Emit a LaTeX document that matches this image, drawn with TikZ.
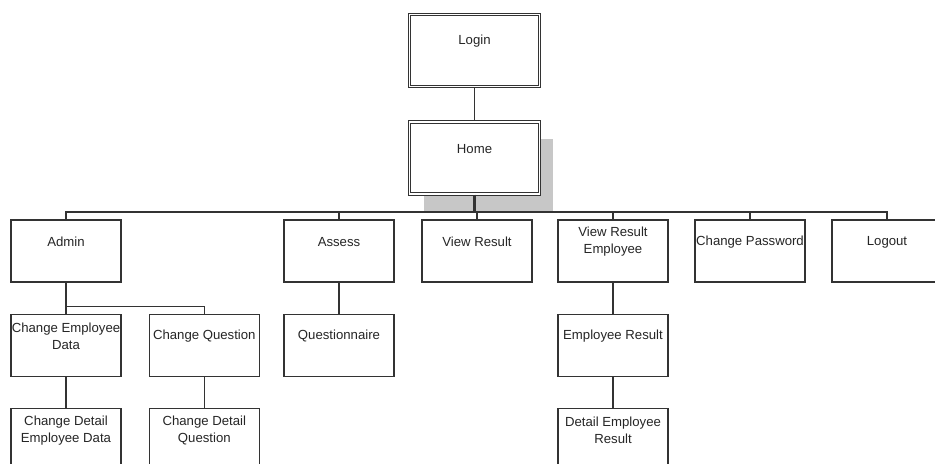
\documentclass[tikz,border=0pt]{standalone}
\usepackage{fontspec}
\setmainfont{Liberation Sans}
\usetikzlibrary{positioning, shadows}
\tikzset{
x=0.02cm, y=-0.02cm, % one unit is one pixel of the sketch, y runs down
node distance=0.62cm and 0.54cm, % vertical and horizontal gap between the boxes
every node/.style={font=\fontsize{7.5}{9.6}\selectfont, text=black!85},
every label/.style={align=center, yshift=0.18cm}, % puts the text in the upper part of a box
page/.style={draw=black!80, fill=white, line width=0.75pt, minimum width=2.2cm, minimum height=1.24cm, inner sep=0pt}, % one screen of the site
main/.style={page, double, double distance=0.7pt, minimum width=2.6cm, minimum height=1.44cm}, % login and home
link/.style={draw=black!80, line width=0.65pt}, % the lines of the tree
}

\begin{document}
\begin{tikzpicture}
    \clip (0,0) rectangle (935,463);
    \node[main, label=center:Login] (login) at (474.5,50.5) {};
    \node[main, drop shadow={shadow xshift=0.28cm, shadow yshift=-0.34cm, fill=black!22, opacity=1}, label=center:Home] (home) at (474.5,158) {};
    % first level
    \node[page, label=center:Admin] (admin) at (66,251) {};
    \node[page, label=center:Assess] (assess) at (339,251) {};
    \node[page, label=center:View Result] (result) at (477,251) {};
    \node[page, label={center:View Result\\Employee}] (resultemp) at (613,251) {};
    \node[page, label=center:Change Password] (password) at (750,251) {};
    \node[page, label=center:Logout] (logout) at (887,251) {};
    % second and third level
    \node[page, below=of admin, label={center:Change Employee\\Data}] (changeemp) {};
    \node[page, right=of changeemp, label=center:Change Question] (changeq) {};
    \node[page, below=of changeemp, label={center:Change Detail\\Employee Data}] (detailemp) {};
    \node[page, below=of changeq, label={center:Change Detail\\Question}] (detailq) {};
    \node[page, below=of assess, label=center:Questionnaire] (questionnaire) {};
    \node[page, below=of resultemp, label=center:Employee Result] (empresult) {};
    \node[page, below=of empresult, label={center:Detail Employee\\Result}] (detailresult) {};
    \coordinate (bus) at (0,212);
    \draw[link] (login) -- (home);
    \draw[link, line width=1.4pt] (home) -- (home |- bus);
    \draw[link] (admin.north) |- (logout.north |- bus) -- (logout.north);
    \foreach \n in {assess, result, resultemp, password}
        \draw[link] (\n.north) -- (\n.north |- bus);
    \draw[link]
    (admin) -- (changeemp)
    (changeq.north) -- ++(0,-7) -| (admin.south)
    (changeemp) -- (detailemp)
    (changeq) -- (detailq)
    (assess) -- (questionnaire)
    (resultemp) -- (empresult) -- (detailresult);
\end{tikzpicture}
\end{document}
